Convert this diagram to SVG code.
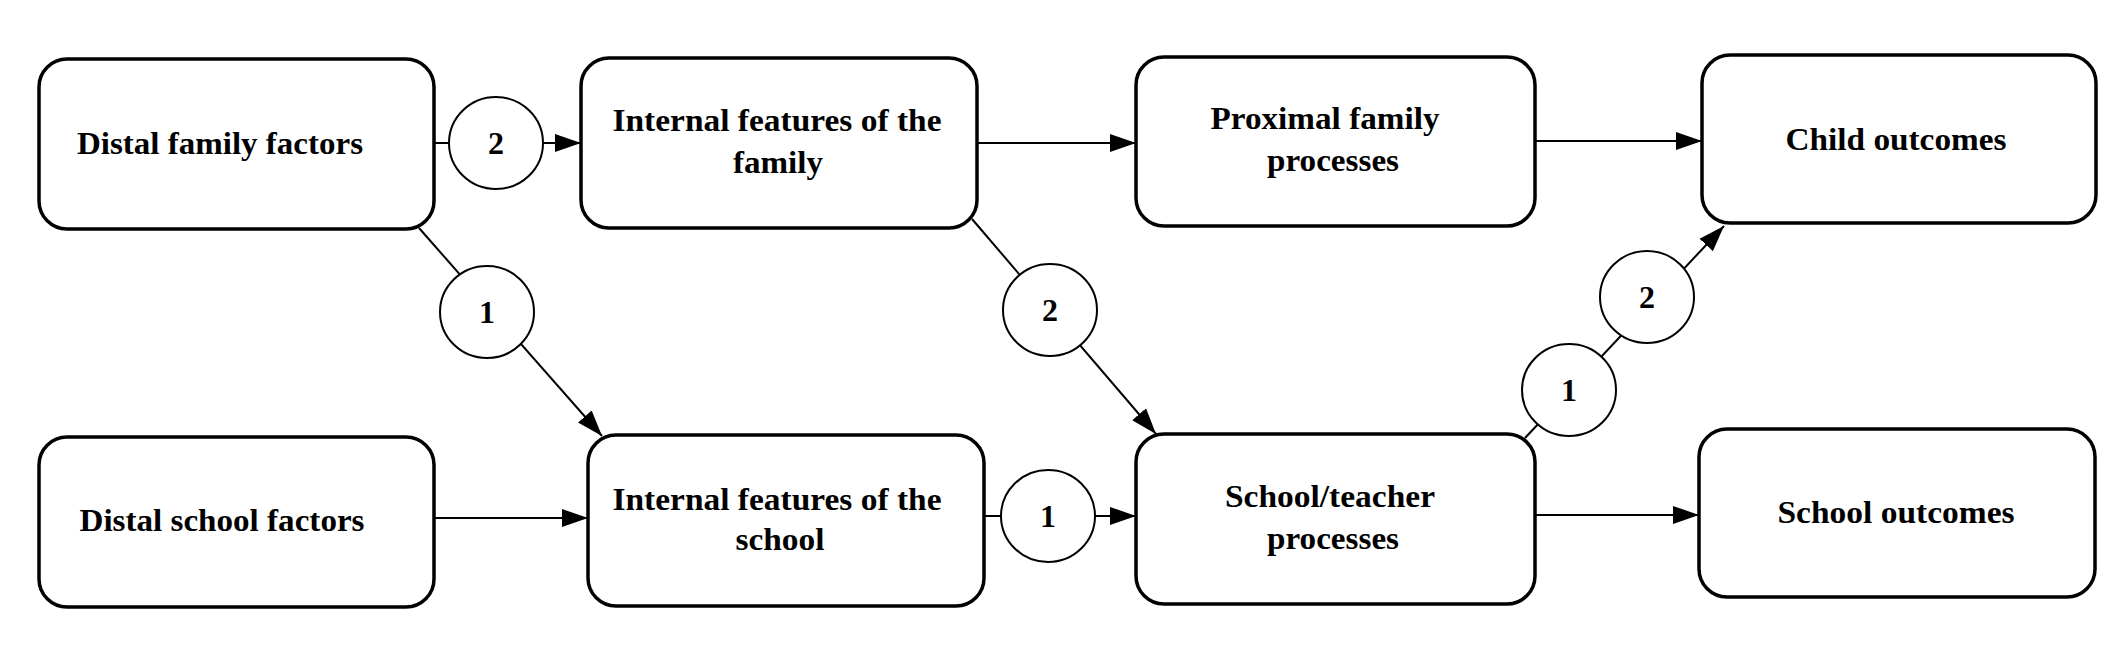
<svg xmlns="http://www.w3.org/2000/svg" width="2115" height="661" viewBox="0 0 2115 661">
<style>
.box{fill:#fff;stroke:#000;stroke-width:3.5}
.c{fill:#fff;stroke:#000;stroke-width:2}
.e{stroke:#000;stroke-width:2;fill:none}
text{font-family:"Liberation Serif","Times New Roman",serif;font-weight:bold;font-size:32px;text-anchor:middle;fill:#000}
</style>
<defs><marker id="a" markerWidth="10" markerHeight="10" refX="9" refY="5" orient="auto" markerUnits="userSpaceOnUse" viewBox="0 0 10 10"><path d="M0,0L10,5L0,10z"/></marker>
<marker id="A" viewBox="0 0 10 10" refX="10" refY="5" markerWidth="26" markerHeight="26" markerUnits="userSpaceOnUse" orient="auto"><path d="M0,1.5L10,5L0,8.5z"/></marker></defs>
<g id="connectors">
<line class="e" x1="434" y1="143" x2="449" y2="143"/>
<line class="e" x1="543" y1="143" x2="581" y2="143" marker-end="url(#A)"/>
<line class="e" x1="977" y1="143" x2="1136" y2="143" marker-end="url(#A)"/>
<line class="e" x1="1535" y1="141" x2="1702" y2="141" marker-end="url(#A)"/>
<line class="e" x1="434" y1="518" x2="588" y2="518" marker-end="url(#A)"/>
<line class="e" x1="984" y1="516" x2="1001" y2="516"/>
<line class="e" x1="1095" y1="516" x2="1136" y2="516" marker-end="url(#A)"/>
<line class="e" x1="1535" y1="515" x2="1699" y2="515" marker-end="url(#A)"/>
<line class="e" x1="419" y1="228" x2="602" y2="436" marker-end="url(#A)"/>
<line class="e" x1="972" y1="219" x2="1156" y2="434" marker-end="url(#A)"/>
<line class="e" x1="1525" y1="438" x2="1724" y2="226" marker-end="url(#A)"/>
</g>
<g id="n1"><rect class="box" x="39" y="59" width="395" height="170" rx="28"/><text x="220" y="154" textLength="286" lengthAdjust="spacingAndGlyphs">Distal family factors</text></g>
<g id="n2"><rect class="box" x="581" y="58" width="396" height="170" rx="28"/><text x="777" y="131" textLength="329" lengthAdjust="spacingAndGlyphs">Internal features of the</text><text x="778" y="173" textLength="90" lengthAdjust="spacingAndGlyphs">family</text></g>
<g id="n3"><rect class="box" x="1136" y="57" width="399" height="169" rx="28"/><text x="1325" y="129" textLength="229" lengthAdjust="spacingAndGlyphs">Proximal family</text><text x="1333" y="171" textLength="132" lengthAdjust="spacingAndGlyphs">processes</text></g>
<g id="n4"><rect class="box" x="1702" y="55" width="394" height="168" rx="28"/><text x="1896" y="150" textLength="221" lengthAdjust="spacingAndGlyphs">Child outcomes</text></g>
<g id="n5"><rect class="box" x="39" y="437" width="395" height="170" rx="28"/><text x="222" y="531" textLength="285" lengthAdjust="spacingAndGlyphs">Distal school factors</text></g>
<g id="n6"><rect class="box" x="588" y="435" width="396" height="171" rx="28"/><text x="777" y="510" textLength="329" lengthAdjust="spacingAndGlyphs">Internal features of the</text><text x="780" y="550" textLength="89" lengthAdjust="spacingAndGlyphs">school</text></g>
<g id="n7"><rect class="box" x="1136" y="434" width="399" height="170" rx="28"/><text x="1330" y="507" textLength="210" lengthAdjust="spacingAndGlyphs">School/teacher</text><text x="1333" y="549" textLength="132" lengthAdjust="spacingAndGlyphs">processes</text></g>
<g id="n8"><rect class="box" x="1699" y="429" width="396" height="168" rx="28"/><text x="1896" y="523" textLength="237" lengthAdjust="spacingAndGlyphs">School outcomes</text></g>
<g id="c1"><ellipse class="c" cx="496" cy="143" rx="47" ry="46"/><text x="496" y="154">2</text></g>
<g id="c2"><ellipse class="c" cx="487" cy="312" rx="47" ry="46"/><text x="487" y="323">1</text></g>
<g id="c3"><ellipse class="c" cx="1050" cy="310" rx="47" ry="46"/><text x="1050" y="321">2</text></g>
<g id="c4"><ellipse class="c" cx="1048" cy="516" rx="47" ry="46"/><text x="1048" y="527">1</text></g>
<g id="c5"><ellipse class="c" cx="1569" cy="390" rx="47" ry="46"/><text x="1569" y="401">1</text></g>
<g id="c6"><ellipse class="c" cx="1647" cy="297" rx="47" ry="46"/><text x="1647" y="308">2</text></g>
</svg>
